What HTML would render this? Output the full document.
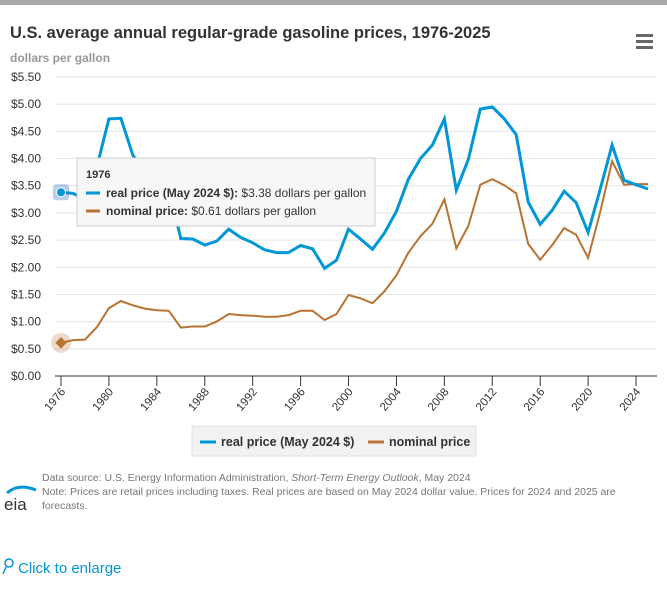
<!DOCTYPE html>
<html><head><meta charset="utf-8"><style>
body{margin:0;width:667px;height:604px;background:#fff;font-family:"Liberation Sans",Arial,sans-serif;overflow:hidden;position:relative}
.bar{position:absolute;left:0;top:0;width:667px;height:5px;background:#a9a9a9}
svg{position:absolute;left:0;top:0}
</style></head><body>
<div class="bar"></div>
<svg id="s" width="667" height="604" xmlns="http://www.w3.org/2000/svg" font-family="Liberation Sans, Arial, sans-serif">
<text x="10" y="38" font-size="16.5" font-weight="bold" fill="#333">U.S. average annual regular-grade gasoline prices, 1976-2025</text>
<text x="10" y="62" font-size="12" font-weight="bold" fill="#999">dollars per gallon</text>
<g fill="#666"><rect x="636" y="34" width="17" height="3"/><rect x="636" y="40" width="17" height="3"/><rect x="636" y="46" width="17" height="3"/></g>
<g id="grid"></g>
<g id="lines"></g>
<g>
<rect x="192" y="426" width="284" height="30" fill="#f2f2f2" stroke="#e0e0e0"/>
<line x1="200" y1="442" x2="216" y2="442" stroke="#0096d7" stroke-width="3"/>
<text x="221" y="446" font-size="12.5" font-weight="bold" fill="#333">real price (May 2024 $)</text>
<line x1="368" y1="442" x2="384" y2="442" stroke="#b87333" stroke-width="3"/>
<text x="389" y="446" font-size="12.5" font-weight="bold" fill="#333">nominal price</text>
</g>
<text x="42" y="481" font-size="10.5" fill="#777">Data source: U.S. Energy Information Administration, <tspan font-style="italic">Short-Term Energy Outlook</tspan>, May 2024</text>
<text x="42" y="495" font-size="10.5" fill="#777">Note: Prices are retail prices including taxes. Real prices are based on May 2024 dollar value. Prices for 2024 and 2025 are</text>
<text x="42" y="509" font-size="10.5" fill="#777">forecasts.</text>
<path d="M7 493 Q18 483 36 490" stroke="#0096d7" stroke-width="3" fill="none"/>
<text x="4" y="510" font-size="17" fill="#333">eia</text>
<circle cx="9" cy="563" r="4" fill="none" stroke="#0096d7" stroke-width="1.5"/>
<line x1="6" y1="567" x2="3" y2="574" stroke="#0096d7" stroke-width="1.5"/>
<text x="18" y="573" font-size="15" fill="#0096d7">Click to enlarge</text>
</svg>
<script>
var real=[3.38,3.36,3.25,3.85,4.73,4.74,4.06,3.75,3.55,3.45,2.53,2.52,2.41,2.48,2.70,2.55,2.45,2.32,2.27,2.27,2.40,2.34,1.98,2.13,2.70,2.52,2.33,2.63,3.03,3.62,4.00,4.25,4.73,3.42,3.98,4.91,4.95,4.73,4.44,3.20,2.79,3.05,3.40,3.19,2.64,3.43,4.25,3.60,3.52,3.44];
var nom=[0.61,0.66,0.67,0.90,1.25,1.38,1.30,1.24,1.21,1.20,0.89,0.91,0.91,1.00,1.14,1.12,1.11,1.09,1.09,1.12,1.20,1.20,1.03,1.14,1.49,1.43,1.34,1.56,1.85,2.27,2.57,2.80,3.25,2.35,2.76,3.52,3.62,3.51,3.36,2.43,2.14,2.41,2.72,2.60,2.17,3.01,3.95,3.52,3.53,3.53];
function X(i){return 61+i*11.98} function Y(v){return 376-v*54.36}
var g='';
for(var k=0;k<=11;k++){var v=k*0.5,y=Y(v);
 g+='<line x1="55" x2="657" y1="'+y+'" y2="'+y+'" stroke="'+(k?'#e6e6e6':'#333')+'" stroke-width="1"/>';
 g+='<text x="41" y="'+(y+4)+'" font-size="12" fill="#333" text-anchor="end">$'+v.toFixed(2)+'</text>';}
for(var yr=1976;yr<=2024;yr+=4){var x=X(yr-1976);
 g+='<line x1="'+x+'" x2="'+x+'" y1="376" y2="386" stroke="#333"/>';
 g+='<text transform="translate('+(x+5)+',392) rotate(-50)" font-size="11.5" fill="#333" text-anchor="end">'+yr+'</text>';}
document.getElementById('grid').innerHTML=g;
function pts(a){return a.map(function(v,i){return X(i).toFixed(1)+','+Y(v).toFixed(1)}).join(' ')}
var l='<polyline points="'+pts(nom)+'" fill="none" stroke="#b87333" stroke-width="2"/>';
l+='<polyline points="'+pts(real)+'" fill="none" stroke="#0096d7" stroke-width="3"/>';
l+='<circle cx="61" cy="'+Y(0.61)+'" r="10" fill="#b87333" opacity="0.25"/>';
l+='<rect x="57" y="'+(Y(0.61)-4)+'" width="8" height="8" fill="#b87333" transform="rotate(45 61 '+Y(0.61)+')"/>';
l+='<rect x="53" y="'+(Y(3.38)-8)+'" width="16" height="16" rx="3" fill="#3b6fd6" opacity="0.35"/>';
l+='<circle cx="61" cy="'+Y(3.38)+'" r="4.5" fill="#0096d7" stroke="#fff"/>';
l+='<rect x="77" y="158" width="298" height="68" fill="#f7f7f7" stroke="#ccc"/>';
l+='<text x="86" y="178" font-size="11" font-weight="bold" fill="#333">1976</text>';
l+='<line x1="86" y1="193" x2="100" y2="193" stroke="#0096d7" stroke-width="3"/>';
l+='<text x="106" y="197" font-size="12" fill="#333"><tspan font-weight="bold">real price (May 2024 $):</tspan> $3.38 dollars per gallon</text>';
l+='<line x1="86" y1="211" x2="100" y2="211" stroke="#b87333" stroke-width="3"/>';
l+='<text x="106" y="215" font-size="12" fill="#333"><tspan font-weight="bold">nominal price:</tspan> $0.61 dollars per gallon</text>';
document.getElementById('lines').innerHTML=l;
</script>
</body></html>
